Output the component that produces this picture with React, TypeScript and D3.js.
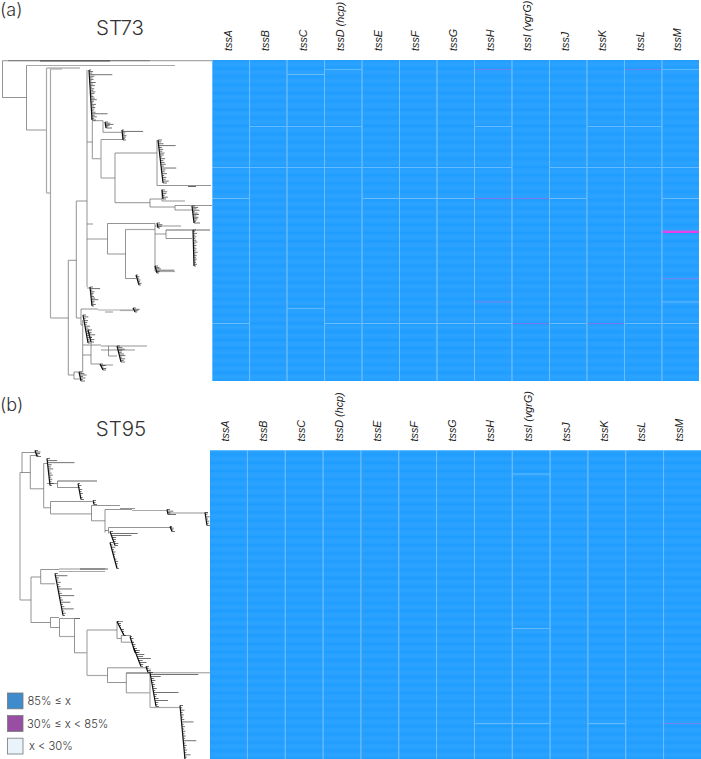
import React, { useEffect, useRef } from 'react';
import * as d3 from 'd3';

const genes = ['tssA', 'tssB', 'tssC', 'tssD (hcp)', 'tssE', 'tssF', 'tssG', 'tssH', 'tssI (vgrG)', 'tssJ', 'tssK', 'tssL', 'tssM'];

// number of strains in each panel
const st73Strains = 360;
const st95Strains = 346;

// cells below the top class: [gene, strain, class]
type Cell = [string, number, 'mid' | 'low' | 'midStrong'];
const st73Cells: Cell[] = [
  ['tssD (hcp)', 10, 'low'], ['tssH', 10, 'mid'], ['tssL', 10, 'mid'], ['tssM', 10, 'low'],
  ['tssC', 16, 'low'],
  ['tssB', 74, 'low'], ['tssC', 74, 'low'], ['tssD (hcp)', 74, 'low'], ['tssH', 74, 'low'], ['tssK', 74, 'low'], ['tssL', 74, 'low'],
  ['tssA', 120, 'low'], ['tssB', 120, 'low'], ['tssC', 120, 'low'], ['tssD (hcp)', 120, 'low'], ['tssE', 120, 'low'], ['tssF', 120, 'low'], ['tssG', 120, 'low'], ['tssH', 120, 'low'],
  ['tssJ', 120, 'low'], ['tssK', 120, 'low'], ['tssL', 120, 'low'], ['tssM', 120, 'low'],
  ['tssA', 155, 'low'], ['tssE', 155, 'low'], ['tssF', 155, 'low'], ['tssG', 155, 'low'], ['tssH', 155, 'mid'], ['tssI (vgrG)', 155, 'mid'], ['tssJ', 155, 'low'], ['tssM', 155, 'low'],
  ['tssM', 191, 'mid'], ['tssM', 192, 'midStrong'], ['tssM', 193, 'midStrong'],
  ['tssM', 245, 'mid'],
  ['tssH', 271, 'mid'], ['tssM', 271, 'low'],
  ['tssC', 278, 'low'],
  ['tssA', 295, 'low'], ['tssD (hcp)', 295, 'low'], ['tssE', 295, 'low'], ['tssF', 295, 'low'], ['tssG', 295, 'low'], ['tssH', 295, 'low'], ['tssI (vgrG)', 295, 'mid'],
  ['tssJ', 295, 'low'], ['tssK', 295, 'mid'], ['tssL', 295, 'low'], ['tssM', 295, 'low'],
];
const st95Cells: Cell[] = [
  ['tssI (vgrG)', 26, 'low'],
  ['tssI (vgrG)', 199, 'low'],
  ['tssH', 306, 'low'], ['tssI (vgrG)', 306, 'low'], ['tssK', 306, 'low'], ['tssM', 306, 'mid'],
];

// tree branches: [from, to, row, shade]
type HBranch = [number, number, number, string?];
type VBranch = [number, number, number, string?];
// dense clades: [divergence, first row, last row, drift, tip lengths]
type Clade = [number, number, number, number, number[]];

const st73H: HBranch[] = [
  [2.5, 212, 0.7, 'g'], [8, 150, 0.7], [40, 110, 1, 'k'],
  [2.5, 26.5, 37.5], [26.5, 175, 5.5, 'g'], [26.5, 46.5, 70], [46.5, 80, 8], [46.5, 50.5, 133], [50.5, 62, 9, 'g'],
  [50.5, 68.3, 258], [68.3, 76.3, 200.3], [76.3, 87, 141], [87, 92.3, 82], [92.3, 103, 60.7], [103, 122, 72.3], [101, 123, 79.5],
  [92.3, 101, 98.7, 'g'], [101, 115, 118, 'g'], [115, 157, 93], [157, 211, 125.5], [188, 196, 126.5, 'k'],
  [115, 150, 142.7, 'g'], [150, 162, 139], [162, 185, 141], [150, 175, 147], [175, 212, 145.5], [175, 192, 150],
  [87, 93, 164], [87, 107.5, 179, 'g'], [107.5, 155, 163.5], [155, 181, 166], [107.5, 125.5, 194], [125.5, 155, 169.5, 'g'],
  [155, 166, 174, 'g'], [166, 192, 178.5], [166, 210, 170, 'k'], [125.5, 136, 218.5], [155, 175, 211.5, 'g'],
  [87, 90, 228], [76.3, 81, 258], [81, 98, 249], [98, 133, 250, 'g'], [120, 133, 250.5, 'g'], [105, 113, 252],
  [81, 82.7, 265], [68.3, 74, 315], [74, 82.7, 312], [74, 80, 319],
  [83, 92, 285], [82.7, 91, 295], [91, 101, 285], [101, 147, 286], [101, 135, 290], [108.5, 117, 296],
  [91, 100, 304], [100, 113, 305],
];
const st73V: VBranch[] = [
  [2.5, 0.7, 37.5], [26.5, 5.5, 70], [46.5, 8, 133, 'g'], [50.5, 9, 258, 'g'], [68.3, 200.3, 315], [76.3, 141, 258],
  [87, 10, 227], [92.3, 60.7, 98.7], [103, 60.7, 72.3], [101, 79.5, 118, 'g'], [115, 93, 142.7], [157, 80, 125.5],
  [150, 139, 147], [162, 129, 141], [175, 145.5, 150], [107.5, 163.5, 194], [155, 163.5, 211], [125.5, 169.5, 218.5],
  [166, 170, 178.5], [81, 249, 265], [82.7, 260, 312], [74, 312, 319], [91, 285, 304], [108.5, 286, 296],
];
const st73Clades: Clade[] = [
  [89, 10, 60, 3, [2, 4, 3, 23, 5, 3, 4, 2, 6, 3, 5, 2, 4, 3, 5, 4, 2, 3, 4, 6, 3, 2, 5, 3, 4, 3, 2, 4, 16, 3, 5, 2, 4]],
  [105, 62, 68, 1, [3, 5, 8, 4, 2, 6]],
  [122, 70, 80, 1, [2, 21, 3, 2, 4, 3, 2, 3]],
  [158, 80, 123, 5, [4, 3, 5, 17, 3, 4, 3, 5, 4, 2, 5, 3, 4, 5, 3, 15, 4, 3, 5, 2, 4, 3, 6, 4]],
  [162, 130, 139, 1, [3, 5, 4, 2, 5, 3]],
  [192, 146, 163, 2, [3, 6, 4, 7, 2, 5, 6, 3, 5, 4, 3, 2, 6]],
  [157, 163, 168, 1, [3, 5, 4, 2]],
  [193, 170, 206, 1, [3, 2, 4, 2, 3, 2, 3, 4, 2, 3, 2, 3, 2, 4, 2, 3, 2, 3, 2, 2, 3, 2]],
  [155, 206, 213, 2, [3, 4, 5, 18, 3, 2]],
  [136, 215, 225, 3, [2, 3, 2, 3, 2, 3, 2]],
  [90, 227, 246, 2, [3, 10, 2, 4, 3, 2, 3, 4, 7, 3, 2, 4, 2]],
  [133, 248, 252, 2, [3, 6, 4, 2]],
  [83, 255, 283, 5, [3, 5, 2, 4, 3, 2, 5, 3, 4, 2, 4, 3, 5, 2, 3, 4]],
  [88, 270, 282, 3, [4, 3, 6, 2, 4, 3]],
  [117, 286, 302, 4, [3, 5, 7, 4, 3, 5, 6, 2, 5, 3, 4]],
  [100, 304, 310, 3, [3, 5, 2, 4, 3]],
  [79, 312, 321, 2, [3, 5, 7, 3, 5, 2, 4]],
];

const st95H: HBranch[] = [
  [22, 35, 2], [22, 30.3, 22], [30.3, 38, 5], [30.3, 43.7, 38.3], [43.7, 47, 13], [47, 57.5, 33], [57.5, 97, 30.5, 'k'], [57.5, 79, 37],
  [43.7, 50.5, 57.3], [50.5, 92, 51], [50.5, 91.5, 63.3, 'g'], [91.5, 105, 70.3], [91.5, 120, 55], [105, 132, 59], [132, 167, 60, 'g'], [120, 135, 58],
  [167, 208, 62.5], [108.5, 172, 77], [105, 108.5, 80],
  [31, 40.7, 126.5], [40.7, 59, 119], [59, 105, 118.5], [80, 108, 118.5, 'k'], [59, 105, 121, 'g'], [40.7, 55, 133.3],
  [20, 31, 149.5], [31, 50.5, 172], [50.5, 59, 167], [50.5, 59.5, 177], [59.5, 74.5, 168], [59.5, 74.5, 186, 'g'], [74.5, 80, 168, 'k'],
  [74.5, 87, 202.3], [87, 117, 179.5], [117, 123, 171], [117, 121.3, 188], [121.3, 131, 185], [121.3, 134, 191.7],
  [87, 107.5, 225, 'g'], [107.5, 148, 217.3], [107.5, 126.3, 232], [126.3, 150, 222.7], [126.3, 210, 222.3], [126.3, 150, 242.3, 'g'], [150, 180, 257, 'g'],
  [20, 22, 22],
];
const st95V: VBranch[] = [
  [20, 22, 149.5, 'g'], [22, 2, 22], [30.3, 5, 38.3], [43.7, 13, 57.3], [57.5, 30.5, 37], [50.5, 51, 63.3], [91.5, 55, 70.3], [105, 59, 82],
  [108.5, 77, 83], [31, 126.5, 172], [40.7, 119, 133.3], [50.5, 167, 177], [59.5, 168, 186], [74.5, 168, 202.3], [87, 179.5, 225, 'g'],
  [117, 171, 188], [121.3, 185, 191.7], [107.5, 217.3, 232], [126.3, 222.5, 242.3], [150, 218, 257, 'g'],
];
const st95Clades: Clade[] = [
  [35, 0, 6, 2, [3, 5, 4, 2, 4]],
  [47, 8, 35, 3, [3, 10, 27, 4, 3, 5, 2, 3, 4, 2, 3, 2, 4, 2]],
  [78, 33, 49, 3, [2, 3, 1, 3, 2, 3, 1, 2, 3]],
  [93, 50, 54, 1, [3, 2, 3]],
  [167, 59, 64, 1, [3, 6, 3, 8]],
  [205, 62, 75, 2, [3, 2, 4, 2, 3, 2, 3]],
  [170, 76, 81, 2, [2, 3, 2, 3]],
  [110, 81, 95, 5, [3, 27, 20, 4, 3, 2, 4, 3]],
  [110, 92, 118, 7, [3, 2, 4, 2, 3, 2, 1, 2, 3, 2, 1, 2]],
  [55, 123, 165, 8, [3, 12, 3, 2, 4, 2, 3, 14, 2, 3, 15, 2, 3, 10, 2, 3, 12, 2, 3, 2]],
  [117, 171, 185, 7, [2, 3, 2, 1, 3, 2, 1, 2]],
  [130, 186, 202, 5, [2, 3, 1, 2, 3, 2, 1, 2, 3]],
  [134, 198, 216, 7, [3, 5, 4, 8, 6, 13, 4, 7, 3, 2]],
  [146, 216, 222, 2, [3, 2, 3, 2]],
  [150, 222, 256, 6, [3, 48, 10, 3, 4, 2, 3, 2, 4, 2, 25, 3, 2, 4, 13, 3, 2, 3]],
  [180, 255, 309, 5, [3, 2, 4, 2, 3, 2, 3, 12, 2, 3, 2, 3, 2, 3, 2, 13, 2, 3, 2, 3, 2, 6, 2, 3]],
];

const legendLabels = ['85% \u2264 x', '30% \u2264 x < 85%', 'x < 30%'];
const legendColors = ['#3f8bcb', '#984ea3', '#e8f4fa'];

const textFont = 'Inter, sans-serif';
const cellColors: Record<string, string> = { high: '#1a9bff', mid: '#8a6ee8', midStrong: '#ff2ee6', low: '#74c2ff' };
const shades: Record<string, string> = { d: '#666', g: '#a8a8a8', k: '#222' };

type Panel = {
  title: string;
  letter: string;
  letterY: number;
  titleX: number;
  titleY: number;
  labelY: number;
  left: number;
  right: number;
  top: number;
  bottom: number;
  strains: number;
  cells: Cell[];
  hBranches: HBranch[];
  vBranches: VBranch[];
  clades: Clade[];
};

const panels: Panel[] = [
  { title: 'ST73', letter: '(a)', letterY: 15.5, titleX: 120, titleY: 35, labelY: 51, left: 212.5, right: 699, top: 60, bottom: 381, strains: st73Strains, cells: st73Cells, hBranches: st73H, vBranches: st73V, clades: st73Clades },
  { title: 'ST95', letter: '(b)', letterY: 411, titleX: 121, titleY: 436, labelY: 441.5, left: 210, right: 701, top: 450.5, bottom: 759, strains: st95Strains, cells: st95Cells, hBranches: st95H, vBranches: st95V, clades: st95Clades },
];

const drawPanel = (svg: d3.Selection<SVGSVGElement, unknown, null, undefined>, p: Panel) => {
  const g = svg.append('g');

  // heatmap scales
  const x = d3.scaleBand<string>().domain(genes).range([p.left, p.right]).paddingInner(0.022).paddingOuter(0);
  const rows = d3.range(p.strains);
  const y = d3.scaleBand<number>().domain(rows).range([p.top, p.bottom]);
  const lookup = new Map(p.cells.map((c) => [`${c[0]}|${c[1]}`, c[2]]));

  g.append('rect')
    .attr('x', p.left)
    .attr('y', p.top)
    .attr('width', p.right - p.left)
    .attr('height', p.bottom - p.top)
    .attr('fill', '#62b9ff');

  const cells = genes.flatMap((gene) => rows.map((r) => ({ gene, r, cls: lookup.get(`${gene}|${r}`) || 'high' })));
  g.append('g')
    .selectAll('rect')
    .data(cells)
    .join('rect')
    .attr('x', (d) => x(d.gene) as number)
    .attr('y', (d) => y(d.r) as number)
    .attr('width', x.bandwidth())
    .attr('height', y.bandwidth())
    .attr('fill', (d) => cellColors[d.cls]);

  // lighter lines between the gene columns
  g.append('g')
    .selectAll('line')
    .data(genes.slice(1))
    .join('line')
    .attr('x1', (d) => (x(d) as number) - x.step() * 0.011)
    .attr('x2', (d) => (x(d) as number) - x.step() * 0.011)
    .attr('y1', p.top)
    .attr('y2', p.bottom)
    .attr('stroke', '#6cbeff')
    .attr('stroke-width', 1);

  // gene labels
  const axis = g.append('g')
    .attr('transform', `translate(0,${p.labelY})`)
    .call(d3.axisTop(x).tickSize(0).tickPadding(0));
  axis.select('.domain').remove();
  axis.selectAll('text')
    .attr('transform', 'rotate(-90)')
    .attr('text-anchor', 'start')
    .attr('x', 0)
    .attr('y', 0)
    .attr('dy', '0.31em')
    .style('font-family', '"Liberation Sans", Arial, sans-serif')
    .style('font-style', 'italic')
    .style('font-size', '10.8px')
    .attr('fill', '#222')
    .attr('dx', 0);
  axis.selectAll('.tick').attr('transform', (d: any) => `translate(${(x(d) as number) + x.bandwidth() / 2 - 2.6},0)`);

  // tree
  const tx = d3.scaleLinear().domain([0, 213]).range([0, 213]);
  const ty = d3.scaleLinear().domain([0, p.bottom - p.top]).range([p.top, p.bottom]);
  const tree = g.append('g').attr('fill', 'none');

  tree.selectAll('line.h')
    .data(p.hBranches)
    .join('line')
    .attr('x1', (d) => tx(d[0]))
    .attr('x2', (d) => tx(d[1]))
    .attr('y1', (d) => ty(d[2]))
    .attr('y2', (d) => ty(d[2]))
    .attr('stroke', (d) => shades[d[3] || 'd'])
    .attr('stroke-width', (d) => (d[3] === 'g' ? 1.2 : 0.7));

  tree.selectAll('line.v')
    .data(p.vBranches)
    .join('line')
    .attr('class', 'v')
    .attr('x1', (d) => tx(d[0]))
    .attr('x2', (d) => tx(d[0]))
    .attr('y1', (d) => ty(d[1]))
    .attr('y2', (d) => ty(d[2]))
    .attr('stroke', (d) => shades[d[3] || 'd'])
    .attr('stroke-width', (d) => (d[3] === 'g' ? 1.2 : 0.7));

  p.clades.forEach(([div, from, to, drift, tips]) => {
    const c = tree.append('g').attr('stroke', '#111');
    c.append('line')
      .attr('x1', tx(div))
      .attr('x2', tx(div + drift))
      .attr('y1', ty(from))
      .attr('y2', ty(to))
      .attr('stroke-width', 1.2);
    c.selectAll('line.tip')
      .data(tips)
      .join('line')
      .attr('class', 'tip')
      .attr('x1', (_, i) => tx(div + (drift * i) / (tips.length - 1)))
      .attr('x2', (d, i) => tx(div + (drift * i) / (tips.length - 1) + d))
      .attr('y1', (_, i) => ty(from + ((to - from) * i) / (tips.length - 1)))
      .attr('y2', (_, i) => ty(from + ((to - from) * i) / (tips.length - 1)))
      .attr('stroke-width', 0.6);
  });

  // titles
  g.append('text')
    .attr('x', 0)
    .attr('y', p.letterY)
    .attr('font-family', textFont)
    .attr('font-weight', 300)
    .attr('font-size', 18)
    .attr('fill', '#333')
    .text(p.letter);
  g.append('text')
    .attr('x', p.titleX)
    .attr('y', p.titleY)
    .attr('text-anchor', 'middle')
    .attr('font-family', textFont)
    .attr('font-weight', 300)
    .attr('font-size', 20.5)
    .attr('fill', '#333')
    .text(p.title);
};

const App: React.FC = () => {
  const ref = useRef<SVGSVGElement>(null);

  useEffect(() => {
    const svg = d3.select(ref.current as SVGSVGElement);
    svg.selectAll('*').remove();
    panels.forEach((p) => drawPanel(svg, p));

    // legend
    const ly = d3.scaleBand<string>().domain(legendLabels).range([693, 754]).paddingInner(0.3);
    const legend = svg.append('g');
    legend.selectAll('rect')
      .data(legendLabels)
      .join('rect')
      .attr('x', 7.5)
      .attr('y', (d) => ly(d) as number)
      .attr('width', 15.5)
      .attr('height', ly.bandwidth())
      .attr('fill', (_, i) => legendColors[i])
      .attr('stroke', '#777')
      .attr('stroke-width', 0.8);
    legend.selectAll('text')
      .data(legendLabels)
      .join('text')
      .attr('x', (_, i) => [27.5, 27, 29][i])
      .attr('y', (d) => (ly(d) as number) + ly.bandwidth() / 2 + 4)
      .attr('font-family', textFont)
      .attr('font-weight', 300)
      .attr('font-size', 11.2)
      .attr('fill', '#333')
      .text((d) => d);
  }, []);

  return <svg ref={ref} width={701} height={759} style={{ position: 'absolute', left: 0, top: 0 }} />;
};

export default App;
